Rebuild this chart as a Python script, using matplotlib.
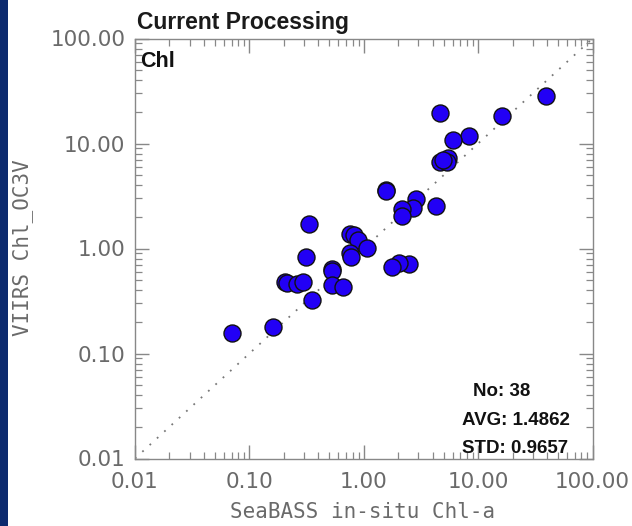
import matplotlib
matplotlib.use("Agg")
import matplotlib.pyplot as plt
from matplotlib.ticker import LogLocator, FixedLocator, FuncFormatter, NullFormatter
from matplotlib.patches import Rectangle

# in-situ (x) and satellite (y) chlorophyll values
insitu = [39.2, 4.63, 16.1, 8.36, 6.05, 5.48, 4.63, 5.31, 4.92, 1.58, 1.55,
          2.86, 4.28, 2.71, 2.16, 2.16, 0.334, 0.757, 0.82, 0.895, 1.06,
          0.757, 0.773, 0.313, 2.50, 2.02, 1.76, 0.524, 0.527, 0.206, 0.212,
          0.259, 0.296, 0.527, 0.655, 0.352, 0.160, 0.0705]
viirs = [28.6, 19.4, 18.3, 11.9, 10.7, 7.24, 6.64, 6.64, 7.03, 3.57, 3.50,
         2.98, 2.52, 2.45, 2.40, 2.02, 1.70, 1.37, 1.34, 1.20, 1.01,
         0.916, 0.83, 0.83, 0.71, 0.72, 0.66, 0.632, 0.61, 0.482, 0.472,
         0.455, 0.479, 0.449, 0.427, 0.323, 0.177, 0.158]
axis_ticks = [0.01, 0.1, 1.0, 10.0, 100.0]
title = "Current Processing"
panel = "Chl"
xlabel = "SeaBASS in-situ Chl-a"
ylabel = "VIIRS Chl_OC3V"
avg_val = "1.4862"
std_val = "0.9657"

W, H = 632, 526
fig = plt.figure(figsize=(W / 100, H / 100), dpi=100)
fig.patch.set_facecolor("white")

# dark blue strip on the left edge
fig.patches.append(Rectangle((0, 0), 8 / W, 1, transform=fig.transFigure,
                             facecolor="#0c2a6e", edgecolor="none", zorder=0))

left, right, top, bottom = 135, 592.5, 38.5, 458.5
ax = fig.add_axes([left / W, 1 - bottom / H, (right - left) / W, (bottom - top) / H])
ax.set_xscale("log")
ax.set_yscale("log")
ax.set_xlim(axis_ticks[0], axis_ticks[-1])
ax.set_ylim(axis_ticks[0], axis_ticks[-1])

# 1:1 line
ax.plot(axis_ticks, axis_ticks, linestyle=(0, (1, 4.5)), color="#777777",
        linewidth=1.3, zorder=1)

ax.scatter(insitu, viirs, s=150, facecolor="#2200f5", edgecolor="#111111",
           linewidth=1.0, zorder=3)

gray = "#888888"
for sp in ax.spines.values():
    sp.set_color(gray)
    sp.set_linewidth(1.0)

fmt = FuncFormatter(lambda v, p: f"{v:.2f}")
for axis in (ax.xaxis, ax.yaxis):
    axis.set_major_locator(FixedLocator(axis_ticks))
    axis.set_major_formatter(fmt)
    axis.set_minor_locator(LogLocator(base=10, subs=range(2, 10), numticks=20))
    axis.set_minor_formatter(NullFormatter())

lab_color = "#6a6a6a"
ax.tick_params(which="both", direction="in", top=True, right=True, color=gray)
ax.tick_params(which="major", length=10, width=1.0)
ax.tick_params(which="minor", length=5, width=0.9)
ax.tick_params(axis="x", which="major", pad=10, labelsize=15.5, labelcolor=lab_color)
ax.tick_params(axis="y", which="major", pad=7, labelsize=15.5, labelcolor=lab_color)
for lab in ax.get_xticklabels() + ax.get_yticklabels():
    lab.set_family("DejaVu Sans")

fig.text(363 / W, 1 - 512 / H, xlabel, ha="center", va="center",
         family="DejaVu Sans Mono", fontsize=15, color=lab_color)
fig.text(23 / W, 1 - 248 / H, ylabel, ha="center", va="center", rotation=90,
         family="DejaVu Sans Mono", fontsize=15, color=lab_color)

fig.text(137 / W, 1 - 29 / H, title, ha="left", va="baseline",
         family="Liberation Sans", fontweight="bold", fontsize=16.5, color="#1a1a1a")
fig.text(140 / W, 1 - 67 / H, panel, ha="left", va="baseline",
         family="Liberation Sans", fontweight="bold", fontsize=15.5, color="#111111")

fig.text(473 / W, 1 - 396 / H, f"No: {len(insitu)}", ha="left", va="baseline",
         family="Liberation Sans", fontweight="bold", fontsize=13.5, color="#111111")
fig.text(462 / W, 1 - 425 / H, f"AVG: {avg_val}", ha="left", va="baseline",
         family="Liberation Sans", fontweight="bold", fontsize=13.5, color="#111111")
fig.text(462 / W, 1 - 453 / H, f"STD: {std_val}", ha="left", va="baseline",
         family="Liberation Sans", fontweight="bold", fontsize=13.5, color="#111111")

fig.savefig("out.png", dpi=100, facecolor="white")
